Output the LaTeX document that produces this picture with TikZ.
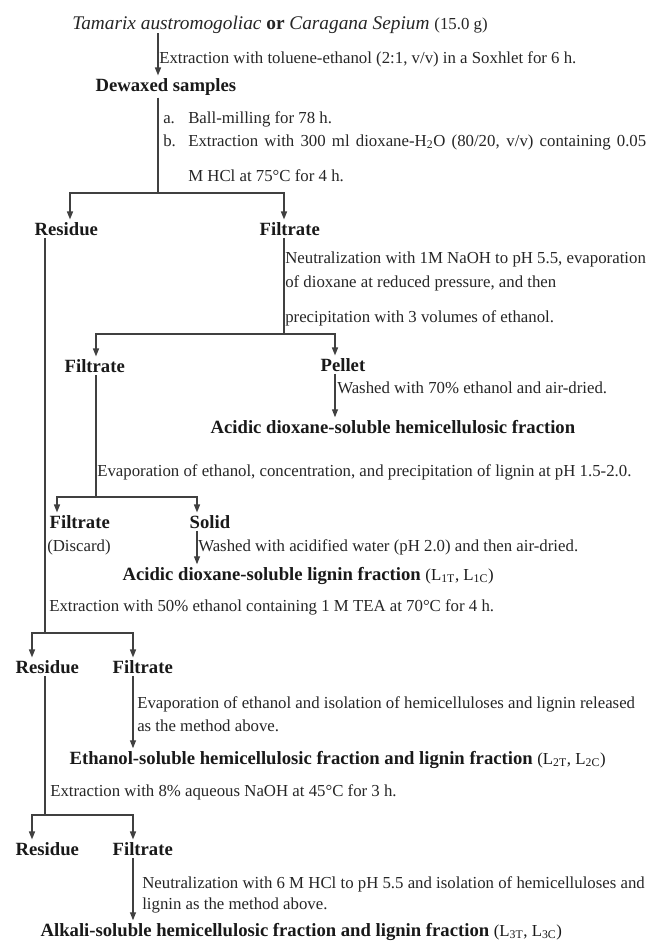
\documentclass[tikz,border=0pt]{standalone}
\usepackage{fontspec}
\setmainfont{Liberation Serif}
\usetikzlibrary{arrows.meta}
\begin{document}
\begin{tikzpicture}[x=0.75pt,y=-0.75pt,
  txt/.style={anchor=mid west, inner sep=0pt, font=\fontsize{12.6}{14}\selectfont, text=black!85},
  lbl/.style={anchor=mid west, inner sep=0pt, outer sep=2pt, font=\fontsize{14}{16}\selectfont\bfseries, text=black!90},
  ln/.style={draw=black!75, line width=1pt},
  arr/.style={ln, -{Triangle[length=6pt,width=4.5pt]}}
]
\useasboundingbox[fill=white] (0,0) rectangle (648,951);
\newcommand{\nrm}{\fontsize{12.6}{14}\selectfont\mdseries}

% columns and junctions
\coordinate (xA) at (158,0);
\coordinate (xL1) at (70,0);
\coordinate (xF1) at (284,0);
\coordinate (xRes) at (45,0);
\coordinate (xF2) at (96,0);
\coordinate (xPel) at (335,0);
\coordinate (xF3) at (57,0);
\coordinate (xSol) at (197,0);
\coordinate (xL) at (32,0);
\coordinate (xR) at (133,0);
\coordinate (j1) at (158,193);
\coordinate (j2) at (284,334);
\coordinate (j3) at (96,497);
\coordinate (j4) at (45,633);
\coordinate (j5) at (45,815);

% nodes
\node[anchor=mid west, inner sep=0pt, font=\fontsize{14.5}{16}\selectfont, text=black!85] (title) at (72,26)
  {\textit{Tamarix austromogoliac} \textbf{or} \textit{Caragana Sepium} {\nrm(15.0 g)}};
\node[txt] (s1) at (159,60) {Extraction with toluene-ethanol (2:1, v/v) in a Soxhlet for 6 h.};
\node[lbl] (dewax) at (93,88) {Dewaxed samples};
\node[txt] (sa) at (163,120) {\makebox[18.75pt][l]{a.}Ball-milling for 78 h.};
\node[txt] (sb) at (163,143) {\makebox[18.75pt][l]{b.}\makebox[343.5pt][s]{Extraction with 300 ml dioxane-H\textsubscript{2}O (80/20, v/v) containing 0.05}};
\node[txt] (sc) at (188,178) {M HCl at 75°C for 4 h.};

\node[lbl] (res1) at (32,232) {Residue};
\node[lbl] (fil1) at (257,232) {Filtrate};
\node[txt] (n1a) at (285,260) {Neutralization with 1M NaOH to pH 5.5, evaporation};
\node[txt] (n1b) at (285,284) {of dioxane at reduced pressure, and then};
\node[txt] (n1c) at (285,319) {precipitation with 3 volumes of ethanol.};

\node[lbl] (fil2) at (62,369) {Filtrate};
\node[lbl] (pel) at (318,368) {Pellet};
\node[txt] (w1) at (337,390) {Washed with 70\% ethanol and air-dried.};
\node[lbl] (ahf) at (208,430) {Acidic dioxane-soluble hemicellulosic fraction};
\node[txt] (ev1) at (97,473) {Evaporation of ethanol, concentration, and precipitation of lignin at pH 1.5-2.0.};

\node[lbl] (fil3) at (47,525) {Filtrate};
\node[txt] (disc) at (47,548) {(Discard)};
\node[lbl] (solid) at (187,525) {Solid};
\node[txt] (w2) at (198,548) {Washed with acidified water (pH 2.0) and then air-dried.};
\node[lbl] (alf) at (120,577) {Acidic dioxane-soluble lignin fraction {\nrm(L\textsubscript{1T}, L\textsubscript{1C})}};
\node[txt] (e50) at (49,608) {Extraction with 50\% ethanol containing 1 M TEA at 70°C for 4 h.};

\node[lbl] (res2) at (13,670) {Residue};
\node[lbl] (fil4) at (110,670) {Filtrate};
\node[txt] (ev2a) at (137,705) {Evaporation of ethanol and isolation of hemicelluloses and lignin released};
\node[txt] (ev2b) at (137,728) {as the method above.};
\node[lbl] (ehf) at (67,761) {Ethanol-soluble hemicellulosic fraction and lignin fraction {\nrm(L\textsubscript{2T}, L\textsubscript{2C})}};
\node[txt] (e8) at (50,793) {Extraction with 8\% aqueous NaOH at 45°C for 3 h.};

\node[lbl] (res3) at (13,852) {Residue};
\node[lbl] (fil5) at (110,852) {Filtrate};
\node[txt] (n2a) at (142,885) {Neutralization with 6 M HCl to pH 5.5 and isolation of hemicelluloses and};
\node[txt] (n2b) at (142,906) {lignin as the method above.};
\node[lbl] (akf) at (38,933) {Alkali-soluble hemicellulosic fraction and lignin fraction {\nrm(L\textsubscript{3T}, L\textsubscript{3C})}};

% connectors
\draw[arr] (title.south -| xA) -- (dewax.north -| xA);
\draw[ln] (dewax.south -| xA) -- (j1);
\draw[arr] (j1) -| (res1.north -| xL1);
\draw[arr] (j1) -| (fil1.north -| xF1);

\draw[ln] (fil1.south -| xF1) -- (j2);
\draw[arr] (j2) -| (fil2.north -| xF2);
\draw[arr] (j2) -| (pel.north -| xPel);
\draw[arr] (pel.south -| xPel) -- (ahf.north -| xPel);

\draw[ln] (fil2.south -| xF2) -- (j3);
\draw[arr] (j3) -| (fil3.north -| xF3);
\draw[arr] (j3) -| (solid.north -| xSol);
\draw[arr] (solid.south -| xSol) -- (alf.north -| xSol);

\draw[ln] (res1.south -| xRes) -- (j4);
\draw[arr] (j4) -| (res2.north -| xL);
\draw[arr] (j4) -| (fil4.north -| xR);
\draw[arr] (fil4.south -| xR) -- (ehf.north -| xR);

\draw[ln] (res2.south -| xRes) -- (j5);
\draw[arr] (j5) -| (res3.north -| xL);
\draw[arr] (j5) -| (fil5.north -| xR);
\draw[arr] (fil5.south -| xR) -- (akf.north -| xR);
\end{tikzpicture}
\end{document}
